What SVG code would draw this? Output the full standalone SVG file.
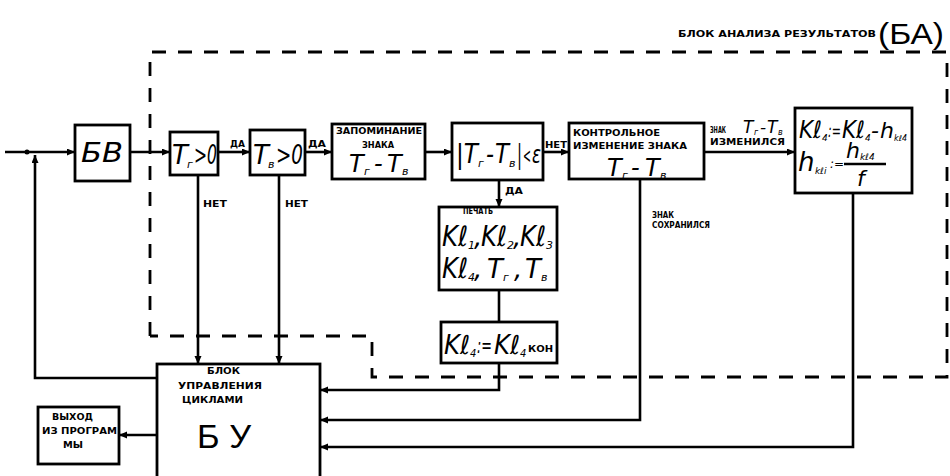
<svg xmlns="http://www.w3.org/2000/svg" width="950" height="476" viewBox="0 0 950 476">
<style>
.box{fill:#fff;stroke:#000;stroke-width:2.8}
.ln{fill:none;stroke:#000;stroke-width:2.6}
.dash{fill:none;stroke:#000;stroke-width:2.8;stroke-dasharray:14 12}
.sm{font-family:"DejaVu Sans",sans-serif;font-weight:bold;font-size:8px;fill:#000}
.hw{font-family:"DejaVu Sans",sans-serif;font-style:italic;fill:#000}
.th{font-family:"Liberation Sans",sans-serif;fill:#000}
</style>
<defs>
<marker id="ar" markerUnits="userSpaceOnUse" markerWidth="9" markerHeight="8" refX="8" refY="3.5" orient="auto">
<path d="M0,0 L8,3.5 L0,7 z" fill="#000"/>
</marker>
</defs>
<rect width="950" height="476" fill="#fff"/>

<g id="frame-BA">
<path class="dash" d="M150,336 V52 H947 V377 H372 V336 H150"/>
<text class="sm" x="678" y="37" font-size="9" textLength="198" lengthAdjust="spacingAndGlyphs">БЛОК АНАЛИЗА  РЕЗУЛЬТАТОВ</text>
<text class="th" x="878" y="44" font-size="30" textLength="66" lengthAdjust="spacingAndGlyphs">(БА)</text>
</g>

<g id="connectors">
<path class="ln" d="M5,152 H75" marker-end="url(#ar)"/>
<circle cx="27" cy="152" r="2.5" fill="#000"/>
<path class="ln" d="M157,378 H35 V155" marker-end="url(#ar)"/>
<path class="ln" d="M130,152 H170" marker-end="url(#ar)"/>
<path class="ln" d="M218,152 H250" marker-end="url(#ar)"/>
<path class="ln" d="M305,152 H332" marker-end="url(#ar)"/>
<path class="ln" d="M425,152 H452" marker-end="url(#ar)"/>
<path class="ln" d="M543,152 H569" marker-end="url(#ar)"/>
<path class="ln" d="M704,152 H795" marker-end="url(#ar)"/>
<path class="ln" d="M499,180 V207" marker-end="url(#ar)"/>
<path class="ln" d="M499,290 V322"/>
<path class="ln" d="M198,175 V364" marker-end="url(#ar)"/>
<path class="ln" d="M279,175 V364" marker-end="url(#ar)"/>
<path class="ln" d="M499,363 V390 H320" marker-end="url(#ar)"/>
<path class="ln" d="M640,179 V420 H320" marker-end="url(#ar)"/>
<path class="ln" d="M853,193 V447 H320" marker-end="url(#ar)"/>
<path class="ln" d="M157,435 H119" marker-end="url(#ar)"/>
<text class="sm" x="230" y="147" textLength="15" lengthAdjust="spacingAndGlyphs">ДА</text>
<text class="sm" x="308" y="147" textLength="18" lengthAdjust="spacingAndGlyphs">ДА</text>
<text class="sm" x="545" y="148" textLength="22" lengthAdjust="spacingAndGlyphs">НЕТ</text>
<text class="sm" x="505" y="194" textLength="18" lengthAdjust="spacingAndGlyphs">ДА</text>
<text class="sm" x="203" y="207" textLength="24" lengthAdjust="spacingAndGlyphs">НЕТ</text>
<text class="sm" x="285" y="207" textLength="23" lengthAdjust="spacingAndGlyphs">НЕТ</text>
<text class="sm" x="710" y="133" textLength="16" lengthAdjust="spacingAndGlyphs">ЗНАК</text>
<text class="hw" x="743" y="133" font-size="17">T</text>
<text class="hw" x="754" y="135" font-size="8">г</text>
<text class="hw" x="760" y="133" font-size="17">-</text>
<text class="hw" x="767" y="133" font-size="17">T</text>
<text class="hw" x="778" y="135" font-size="8">в</text>
<text class="sm" x="710" y="145" textLength="75" lengthAdjust="spacingAndGlyphs">ИЗМЕНИЛСЯ</text>
<text class="sm" x="652" y="218" textLength="22" lengthAdjust="spacingAndGlyphs">ЗНАК</text>
<text class="sm" x="652" y="228" textLength="58" lengthAdjust="spacingAndGlyphs">СОХРАНИЛСЯ</text>
</g>

<g id="node-BV">
<rect class="box" x="75" y="125" width="55" height="56"/>
<text class="hw" x="81" y="162" font-size="27" textLength="42" lengthAdjust="spacingAndGlyphs">БВ</text>
</g>

<g id="node-Tg">
<rect class="box" x="170" y="132" width="48" height="43"/>
<text class="hw" x="172" y="164" font-size="26">T</text>
<text class="hw" x="187" y="168" font-size="11">г</text>
<text class="hw" x="194" y="164" font-size="26" textLength="23" lengthAdjust="spacingAndGlyphs">&gt;0</text>
</g>

<g id="node-Tv">
<rect class="box" x="250" y="130" width="55" height="45"/>
<text class="hw" x="253" y="164" font-size="26">T</text>
<text class="hw" x="268" y="168" font-size="11">в</text>
<text class="hw" x="276" y="164" font-size="26" textLength="27" lengthAdjust="spacingAndGlyphs">&gt;0</text>
</g>

<g id="node-memory">
<rect class="box" x="332" y="124" width="93" height="55"/>
<text class="sm" x="336" y="134" textLength="86" lengthAdjust="spacingAndGlyphs">ЗАПОМИНАНИЕ</text>
<text class="sm" x="362" y="148" textLength="32" lengthAdjust="spacingAndGlyphs">ЗНАКА</text>
<text class="hw" x="349" y="172" font-size="24">T</text>
<text class="hw" x="364" y="175" font-size="11">г</text>
<text class="hw" x="374" y="172" font-size="24">-</text>
<text class="hw" x="387" y="172" font-size="24">T</text>
<text class="hw" x="402" y="175" font-size="11">в</text>
</g>

<g id="node-eps">
<rect class="box" x="452" y="123" width="91" height="57"/>
<text class="hw" x="456" y="163" font-size="26" textLength="22" lengthAdjust="spacingAndGlyphs">|T</text>
<text class="hw" x="478" y="167" font-size="11">г</text>
<text class="hw" x="486" y="163" font-size="26" textLength="8" lengthAdjust="spacingAndGlyphs">-</text>
<text class="hw" x="495" y="163" font-size="26" textLength="14" lengthAdjust="spacingAndGlyphs">T</text>
<text class="hw" x="509" y="167" font-size="11">в</text>
<text class="hw" x="517" y="163" font-size="26" textLength="5" lengthAdjust="spacingAndGlyphs">|</text>
<text class="hw" x="523" y="163" font-size="22" textLength="8" lengthAdjust="spacingAndGlyphs">&lt;</text>
<text class="hw" x="532" y="163" font-size="24" textLength="9" lengthAdjust="spacingAndGlyphs">ε</text>
</g>

<g id="node-control">
<rect class="box" x="569" y="123" width="135" height="56"/>
<text class="sm" x="573" y="136" textLength="87" lengthAdjust="spacingAndGlyphs">КОНТРОЛЬНОЕ</text>
<text class="sm" x="573" y="149" textLength="114" lengthAdjust="spacingAndGlyphs">ИЗМЕНЕНИЕ ЗНАКА</text>
<text class="hw" x="607" y="176" font-size="24">T</text>
<text class="hw" x="622" y="179" font-size="11">г</text>
<text class="hw" x="631" y="176" font-size="24">-</text>
<text class="hw" x="645" y="176" font-size="24">T</text>
<text class="hw" x="660" y="179" font-size="11">в</text>
</g>

<g id="node-formula">
<rect class="box" x="795" y="108" width="117" height="85"/>
<text class="hw" x="799" y="138" font-size="24" textLength="23" lengthAdjust="spacingAndGlyphs">Kℓ</text>
<text class="hw" x="822" y="141" font-size="9">4</text>
<text class="hw" x="828" y="137" font-size="18" textLength="13" lengthAdjust="spacingAndGlyphs">:=</text>
<text class="hw" x="842" y="138" font-size="24" textLength="23" lengthAdjust="spacingAndGlyphs">Kℓ</text>
<text class="hw" x="865" y="141" font-size="9">4</text>
<text class="hw" x="871" y="138" font-size="22">-</text>
<text class="hw" x="880" y="138" font-size="22">h</text>
<text class="hw" x="894" y="141" font-size="8">kℓ4</text>
<text class="hw" x="798" y="171" font-size="26">h</text>
<text class="hw" x="815" y="174" font-size="9">kℓi</text>
<text class="hw" x="830" y="168" font-size="12">:=</text>
<text class="hw" x="846" y="158" font-size="22">h</text>
<text class="hw" x="860" y="160" font-size="9">kℓ4</text>
<path class="ln" d="M844,164 H886"/>
<text class="hw" x="857" y="186" font-size="22">f</text>
</g>

<g id="node-print">
<rect class="box" x="439" y="207" width="118" height="83"/>
<text class="sm" x="463" y="214" textLength="30" lengthAdjust="spacingAndGlyphs">ПЕЧАТЬ</text>
<text class="hw" x="442" y="246" font-size="28" textLength="26" lengthAdjust="spacingAndGlyphs">Kℓ</text>
<text class="hw" x="468" y="249" font-size="11">1</text>
<text class="hw" x="474" y="246" font-size="26">,</text>
<text class="hw" x="481" y="246" font-size="28" textLength="26" lengthAdjust="spacingAndGlyphs">Kℓ</text>
<text class="hw" x="507" y="249" font-size="11">2</text>
<text class="hw" x="513" y="246" font-size="26">,</text>
<text class="hw" x="520" y="246" font-size="28" textLength="26" lengthAdjust="spacingAndGlyphs">Kℓ</text>
<text class="hw" x="546" y="249" font-size="11">3</text>
<text class="hw" x="442" y="278" font-size="28" textLength="26" lengthAdjust="spacingAndGlyphs">Kℓ</text>
<text class="hw" x="468" y="281" font-size="11">4</text>
<text class="hw" x="474" y="278" font-size="26">,</text>
<text class="hw" x="487" y="278" font-size="26">T</text>
<text class="hw" x="503" y="281" font-size="11">г</text>
<text class="hw" x="514" y="278" font-size="26">,</text>
<text class="hw" x="525" y="278" font-size="26">T</text>
<text class="hw" x="541" y="281" font-size="11">в</text>
</g>

<g id="node-kl4">
<rect class="box" x="441" y="322" width="116" height="41"/>
<text class="hw" x="444" y="354" font-size="26" textLength="26" lengthAdjust="spacingAndGlyphs">Kℓ</text>
<text class="hw" x="470" y="357" font-size="10">4</text>
<text class="hw" x="477" y="353" font-size="22" textLength="15" lengthAdjust="spacingAndGlyphs">:=</text>
<text class="hw" x="494" y="354" font-size="26" textLength="26" lengthAdjust="spacingAndGlyphs">Kℓ</text>
<text class="hw" x="520" y="357" font-size="10">4</text>
<text class="sm" x="528" y="352" textLength="25" lengthAdjust="spacingAndGlyphs">КОН</text>
</g>

<g id="node-BU">
<rect class="box" x="157" y="364" width="163" height="116"/>
<text class="sm" x="207" y="374" textLength="33" lengthAdjust="spacingAndGlyphs">БЛОК</text>
<text class="sm" x="178" y="389" textLength="84" lengthAdjust="spacingAndGlyphs">УПРАВЛЕНИЯ</text>
<text class="sm" x="182" y="403" textLength="61" lengthAdjust="spacingAndGlyphs">ЦИКЛАМИ</text>
<text class="th" x="197" y="448" font-size="34" textLength="54" lengthAdjust="spacingAndGlyphs">Б У</text>
</g>

<g id="node-exit">
<rect class="box" x="38" y="407" width="81" height="57"/>
<text class="sm" x="52" y="420" textLength="41" lengthAdjust="spacingAndGlyphs">ВЫХОД</text>
<text class="sm" x="42" y="434" textLength="75" lengthAdjust="spacingAndGlyphs">ИЗ ПРОГРАМ</text>
<text class="sm" x="63" y="448" textLength="20" lengthAdjust="spacingAndGlyphs">МЫ</text>
</g>
</svg>
